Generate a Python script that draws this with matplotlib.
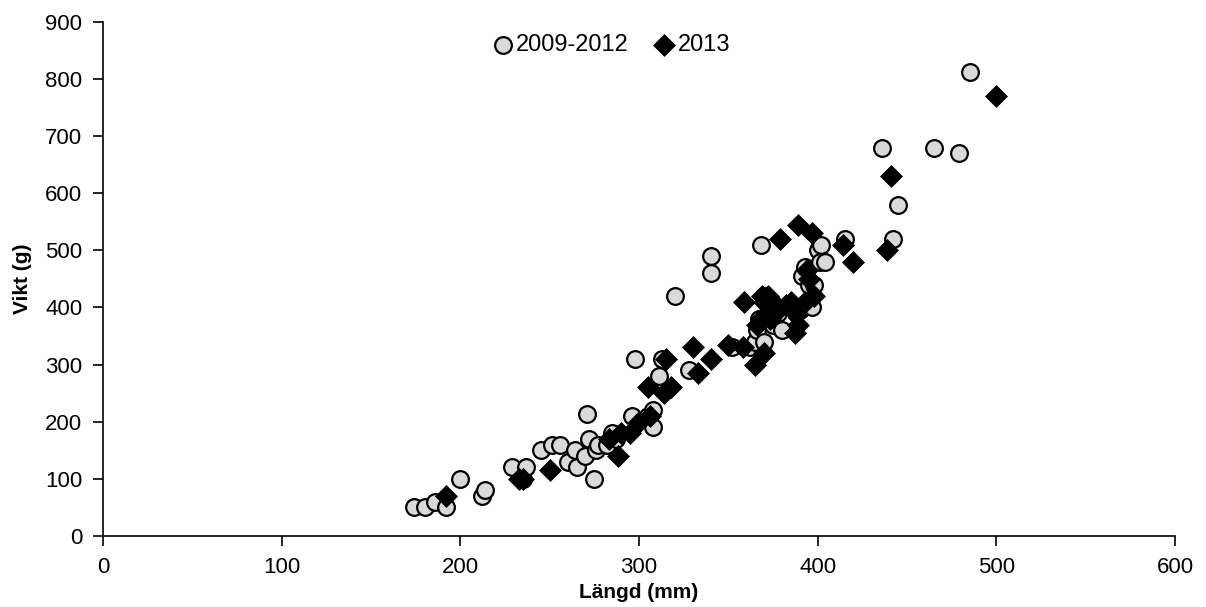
import matplotlib.pyplot as plt

plt.rcParams['font.family'] = ['Liberation Sans', 'DejaVu Sans']

# 2009-2012
len_a = [174, 180, 186, 192, 200, 212, 214, 229, 235, 237, 245, 251, 256, 260, 264, 265,
         270, 271, 272, 275, 276, 277, 282, 285, 287, 296, 298, 305, 308, 308, 311, 313,
         320, 328, 340, 340, 352, 362, 365, 366, 367, 368, 370, 370, 372, 375, 378, 380,
         388, 390, 392, 391, 393, 395, 397, 398, 400, 401, 402, 404, 415, 436, 442, 445,
         465, 479, 485]
wt_a = [50, 50, 60, 50, 100, 70, 80, 120, 100, 120, 150, 160, 160, 130, 150, 120,
        140, 213, 170, 100, 150, 160, 160, 180, 170, 210, 310, 210, 220, 190, 280, 310,
        420, 290, 490, 460, 330, 330, 340, 360, 380, 510, 420, 340, 380, 370, 390, 360,
        390, 395, 400, 455, 470, 440, 400, 440, 500, 480, 510, 480, 520, 680, 520, 580,
        680, 670, 812]

# 2013
len_b = [192, 233, 235, 250, 283, 288, 290, 295, 300, 305, 306, 314, 315, 318, 330, 333,
         340, 350, 358, 359, 365, 366, 368, 369, 370, 370, 372, 373, 376, 378, 379, 382,
         385, 387, 388, 389, 389, 393, 394, 395, 397, 398, 414, 420, 439, 441, 500]
wt_b = [70, 100, 100, 115, 170, 140, 180, 180, 200, 260, 210, 250, 310, 260, 330, 285,
        310, 335, 330, 410, 300, 370, 380, 420, 320, 410, 420, 380, 390, 400, 520, 405,
        410, 355, 390, 370, 545, 410, 465, 450, 530, 420, 510, 480, 500, 630, 770]

fig = plt.figure(figsize=(12.06, 6.07), dpi=100)
ax = fig.add_axes([0.0854, 0.117, 0.889, 0.847])

ax.scatter(len_a, wt_a, s=145, marker='o', facecolor='#d9d9d9', edgecolor='black',
           linewidth=1.6, label='2009-2012', zorder=3)
ax.scatter(len_b, wt_b, s=125, marker='D', facecolor='black', edgecolor='black',
           linewidth=0.5, label='2013', zorder=3)

ax.set_xlim(0, 600)
ax.set_ylim(0, 900)
ax.set_xticks(range(0, 601, 100))
ax.set_yticks(range(0, 901, 100))
ax.tick_params(direction='out', length=7, width=1.2, labelsize=16, pad=8)
for s in ['top', 'right']:
    ax.spines[s].set_visible(False)
for s in ['left', 'bottom']:
    ax.spines[s].set_linewidth(1.2)

ax.set_xlabel('Längd (mm)', fontsize=15, fontweight='bold', labelpad=4)
ax.set_ylabel('Vikt (g)', fontsize=15, fontweight='bold', labelpad=9)

ax.legend(loc='center', bbox_to_anchor=(0.468, 0.955), ncol=2, frameon=False,
          fontsize=17, handletextpad=-0.45, columnspacing=0.5, markerscale=1.0)

fig.savefig('out.png', dpi=100)
